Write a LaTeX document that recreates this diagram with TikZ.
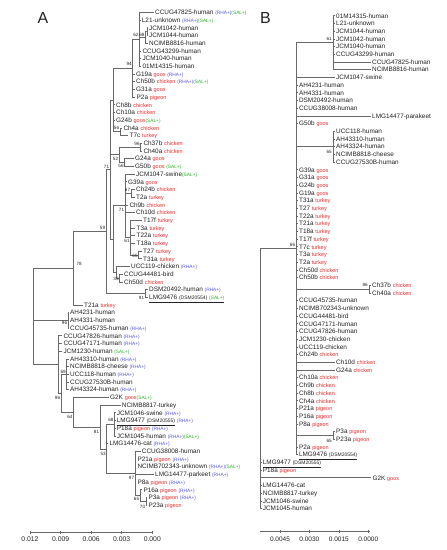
\documentclass[tikz,border=0pt]{standalone}
\usepackage{fontspec}
\setmainfont{Liberation Sans}
\definecolor{hostred}{RGB}{235,45,45}
\definecolor{rhablue}{RGB}{85,85,235}
\definecolor{salgreen}{RGB}{40,180,40}
\definecolor{brgray}{RGB}{105,105,105}
\definecolor{txt}{RGB}{35,35,35}
\newcommand\ho[1]{{\fontsize{5.5}{5.5}\selectfont\color{hostred}#1}}
\newcommand\rh{{\fontsize{4.8}{4.8}\selectfont\color{rhablue}(RHA+)}}
\newcommand\sa{{\fontsize{4.8}{4.8}\selectfont\color{salgreen}(SAL+)}}
\newcommand\dsm[1]{{\fontsize{5}{5}\selectfont #1}}
\newcommand\lfA[4]{\pgfmathsetmacro\yy{12.3+7.7*#3}\coordinate (#1) at (#2,\yy);\node[leaf] (#1t) at ([xshift=1.2pt,yshift=-2.3pt]#1) {#4};}
\newcommand\lfB[4]{\pgfmathsetmacro\yy{15.7+7.7*#3}\coordinate (#1) at (#2,\yy);\node[leaf] (#1t) at ([xshift=1.2pt,yshift=-2.3pt]#1) {#4};}
\newcommand\kids[2]{\foreach \cc in {#2} {\draw[br] (#1) |- (\cc);}}
\newcommand\bs[4]{\node[bsl] (#1) at (#2,#3) {#4};}
\begin{document}
\begin{tikzpicture}[x=1pt,y=-1pt,
  leaf/.style={anchor=base west,inner sep=0pt,font=\fontsize{6.4}{6.4}\selectfont,text=txt},
  br/.style={draw=brgray,line width=0.55pt},
  bsl/.style={anchor=east,inner sep=0pt,font=\fontsize{4.6}{4.6}\selectfont,text=txt},
  axl/.style={inner sep=0pt,font=\fontsize{6.8}{6.8}\selectfont,text=txt}]
\useasboundingbox (0,0) rectangle (447,550);
\fill[white] (0,0) rectangle (447,550);
\node[font=\fontsize{16}{16}\selectfont,text=txt] (labA) at (43,17.5) {A};
\node[font=\fontsize{16}{16}\selectfont,text=txt] (labB) at (265.5,17.5) {B};
% ---------- panel A leaves
\lfA{a0}{153.8}{0}{CCUG47825-human \rh\sa}
\lfA{a1}{140.5}{1}{L21-unknown \rh\sa}
\lfA{a2}{147.8}{2}{JCM1042-human}
\lfA{a3}{147.8}{3}{JCM1044-human}
\lfA{a4}{147.8}{4}{NCIMB8816-human}
\lfA{a5}{141.1}{5}{CCUG43299-human}
\lfA{a6}{141.1}{6}{JCM1040-human}
\lfA{a7}{141.1}{7}{01M14315-human}
\lfA{a8}{134.8}{8}{G19a \ho{goos} \rh}
\lfA{a9}{134.8}{9}{Ch50b \ho{chicken} \rh\sa}
\lfA{a10}{134.8}{10}{G31a \ho{goos}}
\lfA{a11}{135.3}{11}{P2a \ho{pigeon}}
\lfA{a12}{114.8}{12}{Ch8b \ho{chicken}}
\lfA{a13}{114.8}{13}{Ch10a \ho{chicken}}
\lfA{a14}{114.8}{14}{G24b \ho{goos}\sa}
\lfA{a15}{122.1}{15}{Ch4a \ho{chicken}}
\lfA{a16}{128.3}{16}{T7c \ho{turkey}}
\lfA{a17}{142.1}{17}{Ch37b \ho{chicken}}
\lfA{a18}{142.1}{18}{Ch40a \ho{chicken}}
\lfA{a19}{133.8}{19}{G24a \ho{goos}}
\lfA{a20}{133.8}{20}{G50b \ho{goos} \sa}
\lfA{a21}{134.8}{21}{JCM1047-swine\sa}
\lfA{a22}{126.8}{22}{G39a \ho{goos}}
\lfA{a23}{134.8}{23}{Ch24b \ho{chicken}}
\lfA{a24}{134.8}{24}{T2a \ho{turkey}}
\lfA{a25}{128.1}{25}{Ch9b \ho{chicken}}
\lfA{a26}{134.8}{26}{Ch10d \ho{chicken}}
\lfA{a27}{141.8}{27}{T17f \ho{turkey}}
\lfA{a28}{135.3}{28}{T3a \ho{turkey}}
\lfA{a29}{135.3}{29}{T22a \ho{turkey}}
\lfA{a30}{135.3}{30}{T18a \ho{turkey}}
\lfA{a31}{141.8}{31}{T27 \ho{turkey}}
\lfA{a32}{141.8}{32}{T31a \ho{turkey}}
\lfA{a33}{129.8}{33}{UCC119-chicken \rh}
\lfA{a34}{122.8}{34}{CCUG44481-bird}
\lfA{a35}{122.8}{35}{Ch50d \ho{chicken}}
\lfA{a36}{147.8}{36}{DSM20492-human \rh}
\lfA{a37}{147.8}{37}{\underline{LMG9476 \dsm{(DSM20554)} \sa}}
\lfA{a38}{82.8}{38}{T21a \ho{turkey}}
\lfA{a39}{68.8}{39}{AH4231-human}
\lfA{a40}{68.8}{40}{AH4331-human}
\lfA{a41}{68.8}{41}{CCUG45735-human \rh}
\lfA{a42}{62.1}{42}{CCUG47826-human \rh}
\lfA{a43}{62.1}{43}{CCUG47171-human \rh}
\lfA{a44}{62.1}{44}{JCM1230-human \sa}
\lfA{a45}{68.8}{45}{AH43310-human \rh}
\lfA{a46}{68.8}{46}{NCIMB8818-cheese \rh}
\lfA{a47}{68.8}{47}{UCC118-human \rh}
\lfA{a48}{68.8}{48}{CCUG27530B-human}
\lfA{a49}{68.8}{49}{AH43324-human \rh}
\lfA{a50}{108.8}{50}{G2K \ho{goos}\sa}
\lfA{a51}{120.5}{51}{NCIMB8817-turkey}
\lfA{a52}{115.5}{52}{JCM1046-swine \rh}
\lfA{a53}{115.5}{53}{\underline{LMG9477 \dsm{(DSM20555)}} \rh}
\lfA{a54}{115.5}{54}{P18a \ho{pigeon} \rh}
\lfA{a55}{115.5}{55}{JCM1045-human \rh\sa}
\lfA{a56}{108.1}{56}{LMG14476-cat \rh}
\lfA{a57}{140.5}{57}{CCUG38008-human}
\lfA{a58}{136.1}{58}{P21a \ho{pigeon} \rh}
\lfA{a59}{136.1}{59}{NCIMB702343-unknown \rh\sa}
\lfA{a60}{153.8}{60}{LMG14477-parkeet \rh}
\lfA{a61}{136.1}{61}{P8a \ho{pigeon} \rh}
\lfA{a62}{142.1}{62}{P16a \ho{pigeon} \rh}
\lfA{a63}{147.1}{63}{P3a \ho{pigeon} \rh}
\lfA{a64}{147.1}{64}{P23a \ho{pigeon}}
% ---------- panel A internal nodes
\coordinate (pJJ) at (147,31.55);
\coordinate (p68) at (145,37.3);
\coordinate (pH) at (139.3,39.25);
\coordinate (p94) at (132.7,68.1);
\coordinate (p56) at (120,131.65);
\coordinate (pF) at (113.3,99.9);
\coordinate (p96c) at (140.5,147.05);
\coordinate (p56b) at (124.5,162.45);
\coordinate (p52) at (119,154.75);
\coordinate (p67) at (131,193.25);
\coordinate (p65) at (138.5,254.85);
\coordinate (p61) at (130.5,237.5);
\coordinate (p71b) at (125,205.75);
\coordinate (p33) at (119.5,277.95);
\coordinate (pU) at (116,272.2);
\coordinate (pL) at (113,238.95);
\coordinate (p71a) at (110,169.4);
\coordinate (p91) at (145,293.35);
\coordinate (p59) at (106,231.4);
\coordinate (p78) at (73.3,268.15);
\coordinate (p96a) at (68,320.3);
\coordinate (p69) at (66.7,374.2);
\coordinate (p70) at (146,501.25);
\coordinate (p65b) at (140,495.5);
\coordinate (p97) at (135,473.35);
\coordinate (p68b) at (114.3,424.25);
\coordinate (p53) at (106.7,448.8);
\coordinate (p81) at (100,426.9);
\coordinate (p64) at (73.3,412.1);
\coordinate (p96b) at (61,393.15);
\coordinate (pP) at (58,364.4);
\coordinate (pR) at (33,316.3);
\kids{pJJ}{a2,a3}
\kids{p68}{pJJ,a4}
\kids{pH}{a0,a1,p68,a5,a6,a7}
\kids{p94}{pH,a8,a9,a10,a11}
\kids{p56}{a15,a16}
\kids{pF}{p94,a12,a13,a14,p56}
\kids{p96c}{a17,a18}
\kids{p56b}{a19,a20}
\kids{p52}{p96c,p56b}
\kids{p67}{a23,a24}
\kids{p65}{a31,a32}
\kids{p61}{a27,a28,a29,a30,p65}
\kids{p71b}{a21,a22,p67,a25,a26,p61}
\kids{p33}{a34,a35}
\kids{pU}{a33,p33}
\kids{pL}{p71b,pU}
\kids{p71a}{pF,p52,pL}
\kids{p91}{a36,a37}
\kids{p59}{p71a,p91}
\kids{p78}{p59,a38}
\kids{p96a}{a39,a40,a41}
\kids{p69}{a45,a46,a47,a48,a49}
\kids{p70}{a63,a64}
\kids{p65b}{a62,p70}
\kids{p97}{a57,a58,a59,a60,a61,p65b}
\kids{p68b}{a52,a53,a54,a55}
\kids{p53}{p68b,a56,p97}
\kids{p81}{a51,p53}
\kids{p64}{a50,p81}
\kids{p96b}{p69,p64}
\kids{pP}{a42,a43,a44,p96b}
\kids{pR}{p78,p96a,pP}
% bootstrap values A
\bs{v62}{138.6}{35}{62}
\bs{v68}{144.7}{35}{68}
\bs{v94}{132}{64}{94}
\bs{v56}{119.3}{128}{56}
\bs{v96c}{139.8}{143.5}{96}
\bs{v52}{118.3}{159}{52}
\bs{v56b}{123.8}{165.5}{56}
\bs{v71a}{109.3}{167}{71}
\bs{v67}{130.3}{189.5}{67}
\bs{v71b}{124.3}{210}{71}
\bs{v61}{129.8}{241}{61}
\bs{v65}{137.8}{256}{65}
\bs{v59}{105.3}{228}{59}
\bs{v78}{82}{263.5}{78}
\bs{v33}{118.8}{278.5}{33}
\bs{v91}{144.3}{297.5}{91}
\bs{v96a}{67.3}{323}{96}
\bs{v69}{66}{372}{69}
\bs{v96b}{60.3}{397.5}{96}
\bs{v64}{72.6}{417}{64}
\bs{v68b}{113.6}{420}{68}
\bs{v81}{99.3}{432}{81}
\bs{v53}{106}{453.5}{53}
\bs{v97}{134.3}{477.5}{97}
\bs{v65b}{139.3}{499}{65}
\bs{v70}{145.3}{506.5}{70}
% scale A
\coordinate (sA0) at (30,532);
\coordinate (sA4) at (152.3,532);
\draw[br] (sA0) -- (sA4);
\foreach \x/\t [count=\i] in {30/0.012,60.6/0.009,91.2/0.006,121.7/0.003,152.3/0.000} {
  \draw[br] (\x,530.5) -- (\x,533.5);
  \node[axl] (tA\i) at (\x,539.5) {\t};}
% ---------- panel B leaves
\lfB{b0}{334.8}{0}{01M14315-human}
\lfB{b1}{334.8}{1}{L21-unknown}
\lfB{b2}{334.8}{2}{JCM1044-human}
\lfB{b3}{334.8}{3}{JCM1042-human}
\lfB{b4}{334.8}{4}{JCM1040-human}
\lfB{b5}{334.8}{5}{CCUG43299-human}
\lfB{b6}{370.8}{6}{CCUG47825-human}
\lfB{b7}{370.8}{7}{NCIMB8816-human}
\lfB{b8}{334.8}{8}{JCM1047-swine}
\lfB{b9}{297.7}{9}{AH4231-human}
\lfB{b10}{297.7}{10}{AH4331-human}
\lfB{b11}{297.7}{11}{DSM20492-human}
\lfB{b12}{297.7}{12}{CCUG38008-human}
\lfB{b13}{370.8}{13}{LMG14477-parakeet}
\lfB{b14}{297.7}{14}{G50b \ho{goos}}
\lfB{b15}{334.8}{15}{UCC118-human}
\lfB{b16}{334.8}{16}{AH43310-human}
\lfB{b17}{334.8}{17}{AH43324-human}
\lfB{b18}{334.8}{18}{NCIMB8818-cheese}
\lfB{b19}{334.8}{19}{CCUG27530B-human}
\lfB{b20}{297.7}{20}{G39a \ho{goos}}
\lfB{b21}{297.7}{21}{G31a \ho{goos}}
\lfB{b22}{297.7}{22}{G24b \ho{goos}}
\lfB{b23}{297.7}{23}{G19a \ho{goos}}
\lfB{b24}{297.7}{24}{T31a \ho{turkey}}
\lfB{b25}{297.7}{25}{T27 \ho{turkey}}
\lfB{b26}{297.7}{26}{T22a \ho{turkey}}
\lfB{b27}{297.7}{27}{T21a \ho{turkey}}
\lfB{b28}{297.7}{28}{T18a \ho{turkey}}
\lfB{b29}{297.7}{29}{T17f \ho{turkey}}
\lfB{b30}{297.7}{30}{T7c \ho{turkey}}
\lfB{b31}{297.7}{31}{T3a \ho{turkey}}
\lfB{b32}{297.7}{32}{T2a \ho{turkey}}
\lfB{b33}{297.7}{33}{Ch50d \ho{chicken}}
\lfB{b34}{297.7}{34}{Ch50b \ho{chicken}}
\lfB{b35}{370.8}{35}{Ch37b \ho{chicken}}
\lfB{b36}{370.8}{36}{Ch40a \ho{chicken}}
\lfB{b37}{297.7}{37}{CCUG45735-human}
\lfB{b38}{297.7}{38}{NCIMB702343-unknown}
\lfB{b39}{297.7}{39}{CCUG44481-bird}
\lfB{b40}{297.7}{40}{CCUG47171-human}
\lfB{b41}{297.7}{41}{CCUG47826-human}
\lfB{b42}{297.7}{42}{JCM1230-chicken}
\lfB{b43}{297.7}{43}{UCC119-chicken}
\lfB{b44}{297.7}{44}{Ch24b \ho{chicken}}
\lfB{b45}{334.8}{45}{Ch10d \ho{chicken}}
\lfB{b46}{334.8}{46}{G24a \ho{chicken}}
\lfB{b47}{297.7}{47}{Ch10a \ho{chicken}}
\lfB{b48}{297.7}{48}{Ch9b \ho{chicken}}
\lfB{b49}{297.7}{49}{Ch8b \ho{chicken}}
\lfB{b50}{297.7}{50}{Ch4a \ho{chicken}}
\lfB{b51}{297.7}{51}{P21a \ho{pigeon}}
\lfB{b52}{297.7}{52}{P16a \ho{pigeon}}
\lfB{b53}{297.7}{53}{P8a \ho{pigeon}}
\lfB{b54}{334.8}{54}{P3a \ho{pigeon}}
\lfB{b55}{334.8}{55}{P23a \ho{pigeon}}
\lfB{b56}{297.7}{56}{P2a \ho{pigeon}}
\lfB{b57}{297.7}{57}{\underline{LMG9476 \dsm{(DSM20554)}}}
\lfB{b58}{261.5}{58}{\underline{LMG9477 \dsm{(DSM20555)}}}
\lfB{b59}{261.5}{59}{P18a \ho{pigeon}}
\lfB{b60}{371.2}{60}{G2K \ho{goos}}
\lfB{b61}{261.5}{61}{LMG14476-cat}
\lfB{b62}{261.5}{62}{NCIMB8817-turkey}
\lfB{b63}{261.5}{63}{JCM1046-swine}
\lfB{b64}{261.5}{64}{JCM1045-human}
% ---------- panel B internal nodes
\coordinate (q61) at (333.3,42.65);
\coordinate (q65) at (333.3,146.6);
\coordinate (q86) at (369,289.05);
\coordinate (q65b) at (333,435.35);
\coordinate (q66) at (296.7,248.6);
\coordinate (qR) at (260,378.55);
\kids{q61}{b0,b1,b2,b3,b4,b5,b6,b7}
\kids{q65}{b15,b16,b17,b18,b19}
\kids{q86}{b35,b36}
\kids{q65b}{b54,b55}
\kids{q66}{q61,b8,b9,b10,b11,b12,b13,b14,q65,b20,b21,b22,b23,b24,b25,b26,b27,b28,b29,b30,b31,b32,b33,b34,q86,b37,b38,b39,b40,b41,b42,b43,b44,b45,b46,b47,b48,b49,b50,b51,b52,b53,q65b,b56,b57}
\kids{qR}{q66,b58,b59,b60,b61,b62,b63,b64}
\bs{w61}{332}{38.6}{61}
\bs{w65}{332}{151.8}{65}
\bs{w86}{368}{285.3}{86}
\bs{w66}{295.3}{245.3}{66}
\bs{w65b}{332}{440.5}{65}
% scale B
\coordinate (sB0) at (260,531.7);
\coordinate (sB4) at (370,531.7);
\draw[br] (sB0) -- (sB4);
\foreach \x/\t [count=\i] in {280/0.0045,309.4/0.0030,338.8/0.0015,368.2/0.0000} {
  \draw[br] (\x,530.2) -- (\x,533.2);
  \node[axl,font=\fontsize{6.5}{6.5}\selectfont] (tB\i) at (\x,539) {\t};}
\end{tikzpicture}
\end{document}
